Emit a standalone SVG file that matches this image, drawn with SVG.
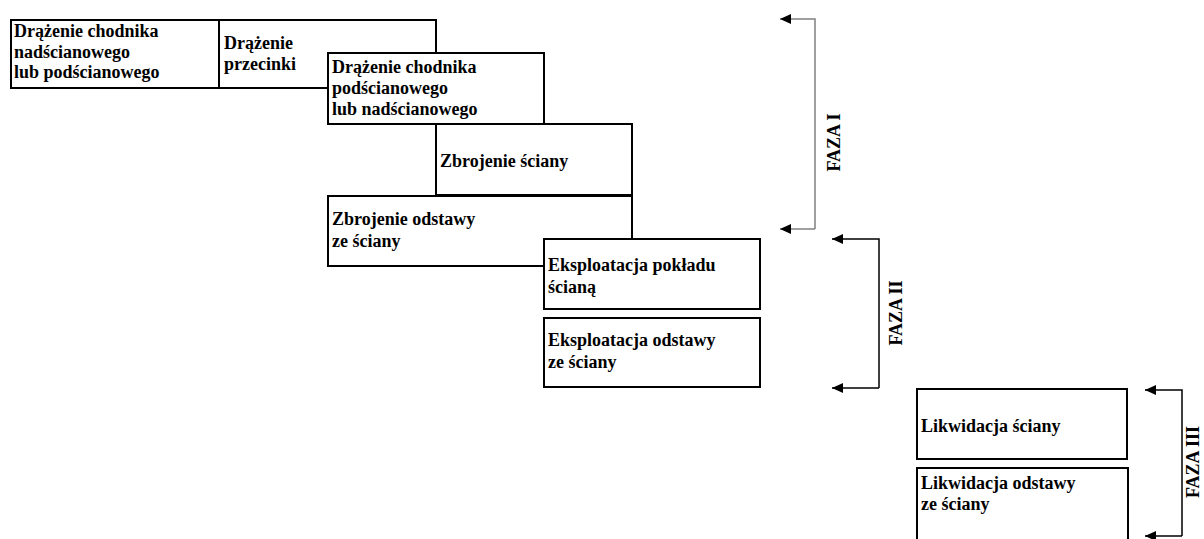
<svg xmlns="http://www.w3.org/2000/svg" width="1204" height="539" viewBox="0 0 1204 539">
<style>
.b{fill:#fff;stroke:#000;stroke-width:2}
.t{font-family:"Liberation Serif","Times New Roman",serif;font-weight:bold;font-size:18px;fill:#000}
.c{fill:none;stroke-width:1.5}
</style>
<defs>
<marker id="ah" markerWidth="12" markerHeight="10" refX="11" refY="5" orient="auto" markerUnits="userSpaceOnUse">
<path d="M0,0 L11,5 L0,10 Z" fill="#000"/>
</marker>
</defs>
<rect width="1204" height="539" fill="#fff"/>
<g id="n1"><rect class="b" x="11" y="20" width="208" height="68"/>
<text class="t"><tspan x="14" y="37">Drążenie chodnika</tspan><tspan x="14" y="57.5">nadścianowego</tspan><tspan x="14" y="78">lub podścianowego</tspan></text></g>
<g id="n2"><rect class="b" x="219" y="20" width="217" height="68"/>
<text class="t"><tspan x="224" y="48.5">Drążenie</tspan><tspan x="224" y="69.5">przecinki</tspan></text></g>
<g id="n3"><rect class="b" x="328" y="53" width="216" height="71"/>
<text class="t"><tspan x="332" y="72.5">Drążenie chodnika</tspan><tspan x="332" y="93.5">podścianowego</tspan><tspan x="332" y="115">lub nadścianowego</tspan></text></g>
<g id="n4"><rect class="b" x="436" y="124" width="196" height="71"/>
<text class="t" x="440" y="167">Zbrojenie ściany</text></g>
<g id="n5"><rect class="b" x="328" y="196" width="304" height="70"/>
<text class="t"><tspan x="332" y="224.5">Zbrojenie odstawy</tspan><tspan x="332" y="246.5">ze ściany</tspan></text></g>
<g id="n6"><rect class="b" x="544" y="239" width="216" height="70"/>
<text class="t"><tspan x="548" y="271">Eksploatacja pokładu</tspan><tspan x="548" y="293">ścianą</tspan></text></g>
<g id="n7"><rect class="b" x="544" y="318" width="216" height="69"/>
<text class="t"><tspan x="548" y="346">Eksploatacja odstawy</tspan><tspan x="548" y="368">ze ściany</tspan></text></g>
<g id="n8"><rect class="b" x="917" y="389" width="210" height="70"/>
<text class="t" x="921" y="432">Likwidacja ściany</text></g>
<g id="n9"><rect class="b" x="917" y="468" width="211" height="80"/>
<text class="t"><tspan x="921" y="488.5">Likwidacja odstawy</tspan><tspan x="921" y="510">ze ściany</tspan></text></g>
<g id="connectors">
<path class="c" stroke="#808080" d="M815,229 L815,19 L780,19" marker-end="url(#ah)"/>
<path class="c" stroke="#808080" d="M815,229 L780,229" marker-end="url(#ah)"/>
<path class="c" stroke="#000" d="M879,388 L879,239 L832,239" marker-end="url(#ah)"/>
<path class="c" stroke="#000" d="M879,388 L832,388" marker-end="url(#ah)"/>
<path class="c" stroke="#000" d="M1182,536 L1182,390 L1145,390" marker-end="url(#ah)"/>
<path class="c" stroke="#000" d="M1182,536 L1145,536" marker-end="url(#ah)"/>
</g>
<g id="labels">
<text class="t" transform="translate(840,142.5) rotate(-90)" text-anchor="middle">FAZA I</text>
<text class="t" transform="translate(902,313) rotate(-90)" text-anchor="middle">FAZA II</text>
<text class="t" transform="translate(1199,462) rotate(-90)" text-anchor="middle">FAZA III</text>
</g>
</svg>
